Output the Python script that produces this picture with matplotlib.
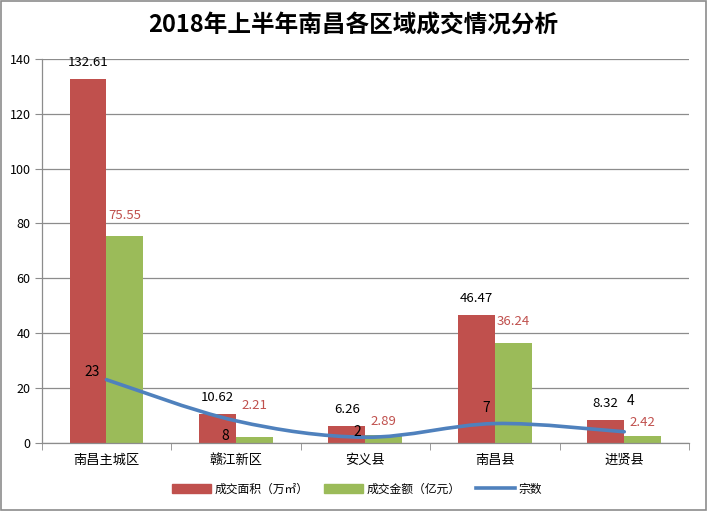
import matplotlib
matplotlib.use('Agg')
import matplotlib.pyplot as plt
import numpy as np
from matplotlib.path import Path
from matplotlib.patches import PathPatch, Rectangle, Patch
from matplotlib.lines import Line2D

plt.rcParams['font.family'] = ['Noto Sans CJK SC', 'DejaVu Sans']

regions = ['南昌主城区', '赣江新区', '安义县', '南昌县', '进贤县']
area = [132.61, 10.62, 6.26, 46.47, 8.32]      # 成交面积（万㎡）
amount = [75.55, 2.21, 2.89, 36.24, 2.42]      # 成交金额（亿元）
deals = [23, 8, 2, 7, 4]                        # 宗数

red = '#C0504D'
green = '#9BBB59'
blue = '#4F81BD'

fig = plt.figure(figsize=(7.07, 5.11), dpi=100)
ax = fig.add_axes([0.059, 0.1336, 0.9155, 0.751])

x = np.arange(len(regions))
w = 0.285
ax.bar(x - w / 2, area, w, color=red, zorder=2)
ax.bar(x + w / 2, amount, w, color=green, zorder=2)

# smoothed line like excel (catmull-rom -> bezier)
pts = np.column_stack([x, deals]).astype(float)
verts = [pts[0]]
codes = [Path.MOVETO]
for i in range(len(pts) - 1):
    p0 = pts[i - 1] if i > 0 else pts[i]
    p1 = pts[i]
    p2 = pts[i + 1]
    p3 = pts[i + 2] if i + 2 < len(pts) else pts[i + 1]
    c1 = p1 + (p2 - p0) / 6
    c2 = p2 - (p3 - p1) / 6
    verts += [c1, c2, p2]
    codes += [Path.CURVE4] * 3
ax.add_patch(PathPatch(Path(verts, codes), fill=False, edgecolor=blue, lw=2.6, zorder=3,
                       capstyle='round'))

# labels
for i in range(len(regions)):
    ax.annotate(f'{area[i]:.2f}', (x[i] - w / 2, area[i]), xytext=(0, 10),
                textcoords='offset pixels', ha='center', va='bottom', fontsize=9.5, color='black')
green_off = [20, 31, 13, 22, 14]
for i in range(len(regions)):
    ax.annotate(f'{amount[i]:.2f}', (x[i] + w / 2, amount[i]), xytext=(0, green_off[i]),
                textcoords='offset pixels', ha='center', va='center', fontsize=9.5, color=red)
line_off = [(-14, 8), (-11, -15), (-8, 5), (-9, 16), (6, 31)]
for i in range(len(regions)):
    ax.annotate(str(deals[i]), (x[i], deals[i]), xytext=line_off[i],
                textcoords='offset pixels', ha='center', va='center', fontsize=10,
                color='black', zorder=4)

ax.set_xlim(-0.5, len(regions) - 0.5)
ax.set_ylim(0, 140)
ax.set_yticks(range(0, 141, 20))
ax.yaxis.grid(True, color='#8c8c8c', lw=0.9, zorder=0)
ax.set_axisbelow(True)
ax.set_xticks(x)
ax.set_xticklabels(regions, fontsize=9.5)
ax.set_xticks(np.arange(-0.5, len(regions)), minor=True)
ax.tick_params(axis='x', which='major', length=0, pad=8)
ax.tick_params(axis='x', which='minor', length=5, color='#8c8c8c', direction='out')
ax.tick_params(axis='y', length=5, color='#8c8c8c', pad=3, labelsize=9)
for s in ['top', 'right']:
    ax.spines[s].set_visible(False)
for s in ['left', 'bottom']:
    ax.spines[s].set_color('#8c8c8c')
    ax.spines[s].set_linewidth(0.9)

fig.text(0.5, 0.951, '2018年上半年南昌各区域成交情况分析', ha='center', va='center',
         fontsize=17, fontweight='bold')

handles = [Patch(color=red, label='成交面积（万㎡）'),
           Patch(color=green, label='成交金额（亿元）'),
           Line2D([0], [0], color=blue, lw=2.6, label='宗数')]
fig.legend(handles=handles, loc='center', bbox_to_anchor=(0.505, 0.043), ncol=3,
           frameon=False, fontsize=8.5, handlelength=3.3, handleheight=0.9,
           columnspacing=1.3, handletextpad=0.3)

fig.add_artist(Rectangle((0.001, 0.001), 0.997, 0.997, transform=fig.transFigure,
                         fill=False, edgecolor='#8c8c8c', lw=1.2))

fig.savefig('out.png', dpi=100)
